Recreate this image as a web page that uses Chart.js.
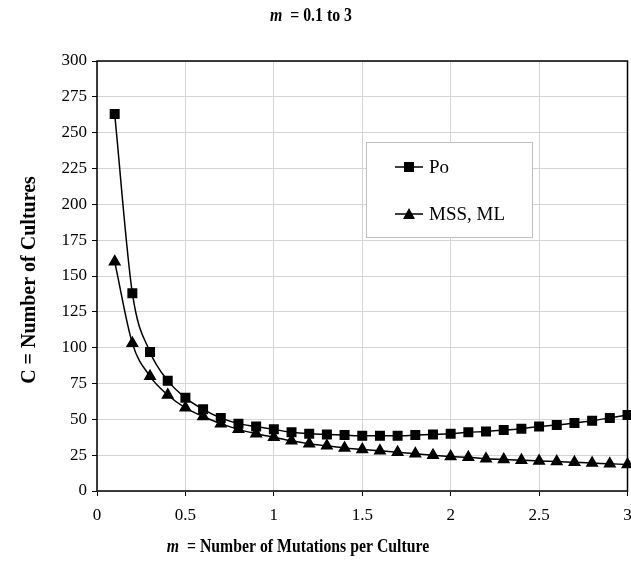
<!DOCTYPE html>
<html>
<head>
<meta charset="utf-8">
<script src="https://cdn.jsdelivr.net/npm/chart.js@4/dist/chart.umd.min.js"></script>
<style>
  html, body { margin: 0; padding: 0; background: #fff; overflow: hidden; }
  #wrap { width: 631px; height: 563px; overflow: hidden; }
</style>
</head>
<body>
<div id="wrap"><canvas id="myChart" width="635" height="563"></canvas></div>
<script>
// m values (mutations per culture)
const mValues = [0.1, 0.2, 0.3, 0.4, 0.5, 0.6, 0.7, 0.8, 0.9, 1.0,
                 1.1, 1.2, 1.3, 1.4, 1.5, 1.6, 1.7, 1.8, 1.9, 2.0,
                 2.1, 2.2, 2.3, 2.4, 2.5, 2.6, 2.7, 2.8, 2.9, 3.0];
const poValues = [263, 138, 97, 77, 65, 57, 51, 47, 45, 43,
                  41, 40, 39.5, 39, 38.5, 38.5, 38.5, 39, 39.5, 40,
                  41, 41.5, 42.5, 43.5, 45, 46, 47.5, 49, 51, 53];
const mssValues = [160, 103, 80, 67, 58, 52, 47, 43, 40, 37.5,
                   35, 33, 31.5, 30, 29, 28, 27, 26, 25, 24,
                   23.5, 22.5, 22, 21.5, 21, 20.5, 20, 19.5, 19, 18.5];
const seriesNames = ['Po', 'MSS, ML'];
const xTicks = [0, 0.5, 1, 1.5, 2, 2.5, 3];
const yTicks = [0, 25, 50, 75, 100, 125, 150, 175, 200, 225, 250, 275, 300];

const serif = "'Liberation Serif', 'Times New Roman', serif";

function toPoints(values){
    let pts = [];
    for(let i = 0; i < mValues.length; i++){
        pts.push({x: mValues[i], y: values[i]});
    }
    return pts;
}

// draws titles, frame and the boxed legend
const decorations = {
    id: 'decorations',
    afterDraw(chart){
        const ctx = chart.ctx;
        const area = chart.chartArea;
        ctx.save();

        // frame round the plot area
        ctx.strokeStyle = '#000';
        ctx.lineWidth = 1.5;
        ctx.strokeRect(area.left, area.top, area.right - area.left, area.bottom - area.top);

        // top title:  m = 0.1 to 3
        ctx.fillStyle = '#000';
        drawMixed(ctx, [['italic bold 18px ' + serif, 'm'], ['bold 18px ' + serif, '  = 0.1 to 3']], 311, 16, 0.88);

        // x axis title
        drawMixed(ctx, [['italic bold 19px ' + serif, 'm'], ['bold 19px ' + serif, '  = Number of Mutations per Culture']], 298, 547, 0.83);

        // y axis title
        ctx.save();
        ctx.translate(30, 280);
        ctx.rotate(-Math.PI / 2);
        drawMixed(ctx, [['bold 20px ' + serif, 'C = Number of Cultures']], 0, 0, 1);
        ctx.restore();

        // legend box
        const lx = 366, ly = 142, lw = 166, lh = 95;
        ctx.fillStyle = '#fff';
        ctx.fillRect(lx, ly, lw, lh);
        ctx.strokeStyle = '#c0c0c0';
        ctx.lineWidth = 1;
        ctx.strokeRect(lx + 0.5, ly + 0.5, lw, lh);

        const rows = [[167, 'rect'], [214, 'triangle']];
        for(let i = 0; i < rows.length; i++){
            let y = rows[i][0];
            ctx.strokeStyle = '#000';
            ctx.lineWidth = 1.5;
            ctx.beginPath();
            ctx.moveTo(395, y);
            ctx.lineTo(423, y);
            ctx.stroke();
            ctx.fillStyle = '#000';
            if(rows[i][1] === 'rect'){
                ctx.fillRect(404, y - 5, 10, 10);
            } else {
                ctx.beginPath();
                ctx.moveTo(409, y - 6);
                ctx.lineTo(415, y + 5);
                ctx.lineTo(403, y + 5);
                ctx.closePath();
                ctx.fill();
            }
            ctx.font = '19px ' + serif;
            ctx.textAlign = 'left';
            ctx.textBaseline = 'middle';
            ctx.fillText(seriesNames[i], 429, y + 1);
        }
        ctx.restore();
    }
};

// centred text made of parts with different fonts, squeezed by sx
function drawMixed(ctx, parts, cx, cy, sx){
    let total = 0;
    for(let i = 0; i < parts.length; i++){
        ctx.font = parts[i][0];
        total += ctx.measureText(parts[i][1]).width;
    }
    ctx.save();
    ctx.translate(cx, cy);
    ctx.scale(sx, 1);
    let x = -total / 2;
    ctx.textAlign = 'left';
    ctx.textBaseline = 'middle';
    for(let i = 0; i < parts.length; i++){
        ctx.font = parts[i][0];
        ctx.fillText(parts[i][1], x, 0);
        x += ctx.measureText(parts[i][1]).width;
    }
    ctx.restore();
}

const ctx = document.getElementById('myChart');

new Chart(ctx, {
    type: 'line',
    data: {
        datasets: [{
            label: seriesNames[0],
            data: toPoints(poValues),
            borderColor: '#000',
            backgroundColor: '#000',
            borderWidth: 1.5,
            pointStyle: 'rect',
            pointRadius: 6,
            pointHoverRadius: 6,
            cubicInterpolationMode: 'monotone',
            clip: false
        }, {
            label: seriesNames[1],
            data: toPoints(mssValues),
            borderColor: '#000',
            backgroundColor: '#000',
            borderWidth: 1.5,
            pointStyle: 'triangle',
            pointRadius: 6,
            pointHoverRadius: 6,
            cubicInterpolationMode: 'monotone',
            clip: false
        }]
    },
    options: {
        responsive: false,
        animation: false,
        layout: { padding: { top: 61, right: 0, left: 0, bottom: 0 } },
        plugins: {
            legend: { display: false },
            title: { display: false },
            tooltip: { enabled: false }
        },
        scales: {
            x: {
                type: 'linear',
                min: 0,
                max: 3,
                afterBuildTicks: (scale) => { scale.ticks = xTicks.map(v => ({value: v})); },
                afterFit: (scale) => {
                    scale.height = 72;
                    scale.paddingLeft = 0;
                    scale.paddingRight = 0;
                },
                border: { display: false },
                grid: { color: '#d4d4d4', tickColor: '#000', tickLength: 5, lineWidth: 1 },
                ticks: {
                    color: '#000',
                    font: { family: serif, size: 17 },
                    padding: 9,
                    maxRotation: 0,
                    callback: (v) => String(v)
                }
            },
            y: {
                min: 0,
                max: 300,
                afterBuildTicks: (scale) => { scale.ticks = yTicks.map(v => ({value: v})); },
                afterFit: (scale) => {
                    scale.width = 97;
                    scale.paddingTop = 0;
                    scale.paddingBottom = 0;
                },
                border: { display: false },
                grid: { color: '#d4d4d4', tickColor: '#000', tickLength: 5, lineWidth: 1 },
                ticks: {
                    color: '#000',
                    font: { family: serif, size: 17 },
                    padding: 5,
                    callback: (v) => String(v)
                }
            }
        }
    },
    plugins: [decorations]
});
</script>
</body>
</html>
